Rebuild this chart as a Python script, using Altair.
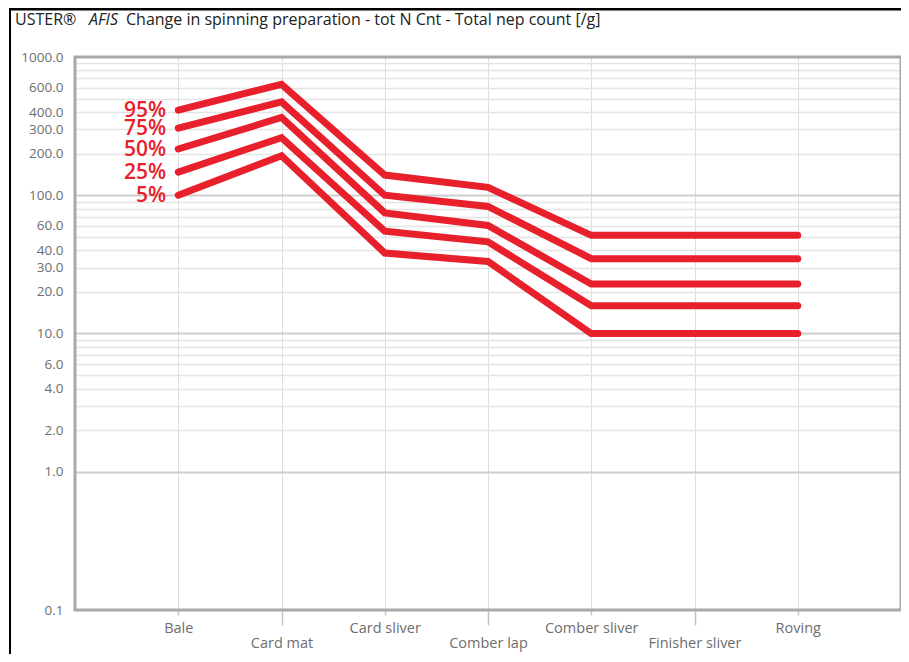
import altair as alt
import pandas as pd

stages = ["Bale", "Card mat", "Card sliver", "Comber lap", "Comber sliver", "Finisher sliver", "Roving"]
percentiles = ["95%", "75%", "50%", "25%", "5%"]
p95 = [413, 635, 140, 114, 51.3, 51.3, 51.3]
p75 = [306, 474, 100, 83, 34.8, 34.8, 34.8]
p50 = [216, 365, 74.5, 60.5, 22.8, 22.8, 22.8]
p25 = [147, 261, 55, 46, 15.9, 15.9, 15.9]
p5 = [100, 193, 38.2, 33.2, 10, 10, 10]

grid_values = [0.1, 1, 2, 3, 4, 5, 6, 7, 8, 9, 10, 20, 30, 40, 50, 60, 70, 80, 90,
               100, 200, 300, 400, 500, 600, 700, 800, 900, 1000]
labeled_values = [0.1, 1, 2, 4, 6, 10, 20, 30, 40, 60, 100, 200, 300, 400, 600, 1000]
decade_values = [1, 10, 100]
lower_row = ["Card mat", "Comber lap", "Finisher sliver"]

title_main = "Change in spinning preparation - tot N Cnt - Total nep count [/g]"

rows = []
for pct, vals in zip(percentiles, [p95, p75, p50, p25, p5]):
    for i, (s, v) in enumerate(zip(stages, vals)):
        rows.append({"pct": pct, "stage": s, "idx": i, "value": v})
df = pd.DataFrame(rows)

RED = "#e8202c"
GRAY_TXT = "#6e6e6e"
FONT = "Open Sans"
W, H = 826, 553
BOTTOM = 44

def arr(lst, quote=False):
    if quote:
        return "[" + ",".join("'" + x + "'" for x in lst) + "]"
    return "[" + ",".join(str(x) for x in lst) + "]"

low_test = "indexof(" + arr(lower_row, True) + ", datum.value) >= 0"
dec_test = "indexof(" + arr(decade_values) + ", datum.value) >= 0"

x_enc = alt.X(
    "stage:N", sort=stages,
    scale=alt.Scale(type="point", padding=1),
    axis=alt.Axis(
        title=None, labelAngle=0, grid=True, gridColor="#dedede", gridWidth=1,
        domain=False, tickColor="#c4c4c4", tickWidth=1.5,
        tickSize={"condition": {"test": low_test, "value": 15}, "value": 5},
        labelPadding={"condition": {"test": low_test, "value": 11}, "value": 6},
        labelFont=FONT, labelFontSize=14.5, labelColor=GRAY_TXT, labelBaseline="top",
    ),
)
y_enc = alt.Y(
    "value:Q",
    scale=alt.Scale(type="log", domain=[0.1, 1000], nice=False),
    axis=alt.Axis(
        title=None, values=grid_values, ticks=False, domain=False,
        labelExpr="indexof(" + arr(labeled_values) + ", datum.value) >= 0 ? format(datum.value, '.1f') : ''",
        labelOverlap=False, labelPadding=12, labelFont=FONT, labelFontSize=13.5, labelColor=GRAY_TXT,
        gridColor={"condition": {"test": dec_test, "value": "#cdcdcd"}, "value": "#e4e4e4"},
        gridWidth={"condition": {"test": dec_test, "value": 2}, "value": 1.5},
    ),
)

lines = alt.Chart(df).mark_line(color=RED, strokeWidth=7, strokeCap="round", strokeJoin="miter").encode(
    x=x_enc, y=y_enc, detail="pct:N", order="idx:Q"
)

labels = alt.Chart(df).transform_filter("datum.stage == 'Bale'").mark_text(
    align="right", baseline="middle", dx=-12, dy=1, fontSize=21, fontWeight=600, font=FONT, color=RED
).encode(x=alt.X("stage:N", sort=stages), y="value:Q", text="pct:N")

one = alt.Data(values=[{}])
plot_frame = alt.Chart(one).mark_rect(fillOpacity=0, stroke="#a9a9a9", strokeWidth=3).encode(
    x=alt.value(0), x2=alt.value(W), y=alt.value(0), y2=alt.value(H))

t1 = alt.Chart(one).mark_text(text="USTER®", align="left", baseline="middle", fontSize=16, font=FONT, color="#222").encode(
    x=alt.value(-60), y=alt.value(-37))
t2 = alt.Chart(one).mark_text(text="AFIS", align="left", baseline="middle", fontSize=16, font=FONT, fontStyle="italic", color="#222").encode(
    x=alt.value(14), y=alt.value(-37))
t3 = alt.Chart(one).mark_text(text=title_main, align="left", baseline="middle", fontSize=16, font=FONT, color="#222").encode(
    x=alt.value(51), y=alt.value(-37))

frame_left = alt.Chart(one).mark_rule(color="#000", strokeWidth=2).encode(
    x=alt.value(-65), y=alt.value(-49), y2=alt.value(H + BOTTOM))
frame_top = alt.Chart(one).mark_rule(color="#000", strokeWidth=3).encode(
    x=alt.value(-66), x2=alt.value(W), y=alt.value(-48))

chart = alt.layer(plot_frame, lines, labels, t1, t2, t3, frame_left, frame_top).properties(
    width=W, height=H,
    autosize=alt.AutoSizeParams(type="none"),
    padding={"left": 67, "top": 49, "right": 0, "bottom": BOTTOM},
).configure(background="white").configure_view(strokeWidth=0)

chart.save("out.html", embed_options={"renderer": "svg", "actions": False})
